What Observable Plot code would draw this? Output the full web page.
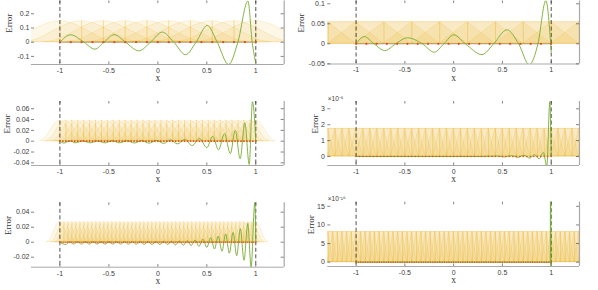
<!DOCTYPE html>
<html><head><meta charset="utf-8">
<script src="https://cdn.jsdelivr.net/npm/d3@7"></script>
<script src="https://cdn.jsdelivr.net/npm/@observablehq/plot@0.6"></script>
<style>
html,body{margin:0;padding:0;background:#fff;}
#fig{position:relative;width:598px;height:290px;overflow:hidden;background:#fff;}
#fig svg{position:absolute;}
</style></head><body><div id="fig"></div>
<script>
const green = "#77AC30", orange = "#EDB120", red = "#D95319";
const xTicks = [-1, -0.5, 0, 0.5, 1];
const xLim = [-1.29, 1.29];

// Panel 1 (top-left)
const err1X = [-1, -0.89, -0.755, -0.643, -0.551, -0.445, -0.33, -0.194, -0.075, 0.045, 0.163, 0.283, 0.39, 0.505, 0.606, 0.722, 0.817, 0.92, 0.963, 1.0];
const err1Y = [0, 0.052, 0, -0.049, 0, 0.053, 0, -0.061, 0, 0.071, 0, -0.088, 0, 0.118, 0, -0.157, 0, 0.29, 0, -0.15];
const yTicks1 = [-0.1, 0, 0.1, 0.2];

// Panel 2 (top-right)
const err2X = [-1, -0.918, -0.816, -0.706, -0.594, -0.474, -0.32, -0.2, -0.1, 0.0, 0.12, 0.29, 0.41, 0.546, 0.666, 0.775, 0.864, 0.945, 1.0];
const err2Y = [0, 0.018, 0, -0.017, 0, 0.015, 0, -0.021, 0, 0.0225, 0, -0.027, 0, 0.035, 0, -0.0525, 0, 0.108, -0.02];
const yTicks2 = [-0.05, 0, 0.05, 0.1];

// Panel 3 (middle-left)
const err3X = [-1, -0.96, -0.9, -0.84, -0.765, -0.69, -0.615, -0.54, -0.465, -0.39, -0.315, -0.24, -0.165, -0.09, -0.015, 0.06, 0.13, 0.2, 0.275, 0.35, 0.425, 0.5, 0.56, 0.62, 0.68, 0.74, 0.79, 0.84, 0.888, 0.933, 0.966, 1.0];
const err3Y = [0, -0.0035, 0.0005, -0.003, 0.0005, -0.003, 0.0005, -0.003, 0.0006, -0.003, 0.0008, -0.0033, 0.001, -0.0036, 0.0015, -0.004, 0.0025, -0.005, 0.0035, -0.008, 0.005, -0.012, 0.009, -0.016, 0.014, -0.023, 0.02, -0.0325, 0.034, -0.043, 0.073, 0];
const yTicks3 = [-0.04, -0.02, 0, 0.02, 0.04, 0.06];

// Panel 4 (middle-right), values in units of 1e-5
const err4X = [-1, 0.3, 0.45, 0.52, 0.59, 0.66, 0.72, 0.78, 0.83, 0.875, 0.92, 0.955, 0.986, 1.0];
const err4Y = [0, 0, 0.03, -0.03, 0.05, -0.05, 0.08, -0.1, 0.12, -0.15, 0.25, -0.6, 3.45, 0];
const yTicks4 = [0, 1, 2, 3];

// Panel 5 (bottom-left)
const err5X = [-1, -0.94, -0.9, -0.86, -0.82, -0.78, -0.74, -0.7, -0.66, -0.62, -0.58, -0.54, -0.5, -0.46, -0.42, -0.38, -0.34, -0.3, -0.26, -0.22, -0.18, -0.14, -0.1, -0.06, -0.02, 0.02, 0.06, 0.1, 0.14, 0.18, 0.22, 0.26, 0.3, 0.34, 0.38, 0.42, 0.46, 0.5, 0.54, 0.578, 0.616, 0.655, 0.692, 0.73, 0.768, 0.805, 0.842, 0.88, 0.918, 0.952, 0.99, 1.0];
const err5Y = [0, -0.003, 0.0005, -0.0025, 0.0005, -0.0025, 0.0005, -0.0025, 0.0005, -0.0025, 0.0005, -0.0025, 0.0005, -0.0025, 0.0006, -0.0025, 0.0006, -0.0025, 0.0007, -0.0027, 0.0007, -0.0028, 0.0008, -0.003, 0.0008, -0.003, 0.001, -0.003, 0.0012, -0.0035, 0.0015, -0.004, 0.002, -0.0045, 0.003, -0.0055, 0.004, -0.007, 0.006, -0.009, 0.008, -0.012, 0.011, -0.0147, 0.013, -0.018, 0.018, -0.024, 0.025, -0.033, 0.053, 0];
const yTicks5 = [-0.02, 0, 0.02, 0.04];

// Panel 6 (bottom-right), values in units of 1e-16
const err6X = [-1, 0.99, 0.994, 0.997, 1.0];
const err6Y = [0, 0, 40, -5, 0];
const yTicks6 = [0, 5, 10, 15];

// Bump shapes (offset in half-widths, relative height)
const bellU = [-1, -0.8, -0.6, -0.4, -0.2, 0, 0.2, 0.4, 0.6, 0.8, 1];
const bellR = [0, 0.1, 0.35, 0.65, 0.9, 1, 0.9, 0.65, 0.35, 0.1, 0];
const trapU = [-2, -1, 1, 2];
const trapR = [0, 1, 1, 0];

const grid = (a, step, n) => d3.range(n).map(k => a + k * step);

const panels = [
  {left: 0, top: 0, width: 298, height: 95, mt: 0.5, mb: 31, ml: 31, mr: 14.3,
   yDomain: [-0.157, 0.29], yTicks: yTicks1, ex: err1X, ey: err1Y,
   centers: grid(-1, 2/9, 10), profU: bellU, profR: bellR, bw: 0.6, bh: 0.148, curve: "catmull-rom", fo: 0.1,
   nodes: grid(-1, 1/9, 19), r: 1.1, ylabDx: -22, mult: null, base: true},
  {left: 298, top: 0, width: 300, height: 95, mt: 0.5, mb: 31.5, ml: 29.3, mr: 19,
   yDomain: [-0.0505, 0.107], yTicks: yTicks2, ex: err2X, ey: err2Y,
   centers: grid(-13/7, 2/7, 14), profU: trapU, profR: trapR, bw: 2/7, bh: 0.054, curve: "linear", fo: 0.14,
   nodes: grid(-1, 2/19, 20), r: 1.1, ylabDx: -26.5, mult: null, base: true},
  {left: 0, top: 95, width: 298, height: 95, mt: 6, mb: 25, ml: 31, mr: 14.3,
   yDomain: [-0.0449, 0.0733], yTicks: yTicks3, ex: err3X, ey: err3Y,
   centers: grid(-1, 2/33, 34), profU: bellU, profR: bellR, bw: 0.2, bh: 0.038, curve: "catmull-rom", fo: 0.09,
   nodes: grid(-1, 2/66, 67), r: 0.9, ylabDx: -24, mult: null, base: false},
  {left: 298, top: 95, width: 300, height: 95, mt: 6, mb: 25, ml: 29.3, mr: 19,
   yDomain: [-0.566, 3.46], yTicks: yTicks4, ex: err4X, ey: err4Y,
   centers: grid(-1 - 6 * 2/28, 2/28, 41), profU: trapU, profR: trapR, bw: 2/28, bh: 1.74, curve: "linear", fo: 0.14,
   nodes: grid(-1, 2/56, 57), r: 0.8, ylabDx: -13, mult: "×10⁻⁵", base: false},
  {left: 0, top: 190, width: 298, height: 100, mt: 12.3, mb: 23.3, ml: 31, mr: 14.3,
   yDomain: [-0.0333, 0.0525], yTicks: yTicks5, ex: err5X, ey: err5Y,
   centers: grid(-1, 2/49, 50), profU: bellU, profR: bellR, bw: 0.13, bh: 0.0267, curve: "catmull-rom", fo: 0.09,
   nodes: grid(-1, 2/98, 99), r: 0.8, ylabDx: -23, mult: null, base: false},
  {left: 298, top: 190, width: 300, height: 100, mt: 11.7, mb: 24, ml: 29.3, mr: 19,
   yDomain: [-1.16, 16.1], yTicks: yTicks6, ex: err6X, ey: err6Y,
   centers: grid(-1 - 8 * 2/42, 2/42, 59), profU: trapU, profR: trapR, bw: 2/42, bh: 8.1, curve: "linear", fo: 0.14,
   nodes: grid(-1, 2/84, 85), r: 0.8, ylabDx: -17, mult: "×10⁻¹⁶", base: false}
];

const fmt = d => `${d}`;
const fig = document.getElementById("fig");

for (const p of panels) {
  const [y0, y1] = p.yDomain;
  const [x0, x1] = xLim;
  const bumpData = [];
  p.centers.forEach((c, i) => p.profU.forEach((u, j) => bumpData.push({id: i, x: c + u * p.bw, y: p.profR[j] * p.bh})));
  const errData = p.ex.map((x, i) => ({x, y: p.ey[i]}));
  const tickLenY = 0.04 * (y1 - y0);
  const tickLenX = 0.012 * (x1 - x0);
  const marks = [
    Plot.areaY(bumpData, {x: "x", y1: () => 0, y2: "y", z: "id", fill: orange, fillOpacity: p.fo, stroke: orange, strokeOpacity: 0.35, strokeWidth: 0.5, curve: p.curve, clip: true}),
    Plot.ruleX(p.centers, {y1: 0, y2: p.bh, stroke: orange, strokeOpacity: 0.7, strokeWidth: 0.6, clip: true}),
    Plot.ruleX([x1], {stroke: "#a8a8a8", strokeWidth: 1.2}),
    Plot.ruleY([y0], {stroke: "#a8a8a8", strokeWidth: 1}),
    Plot.ruleX(xTicks, {y1: y1, y2: y1 - tickLenY, stroke: "#333", strokeWidth: 0.6}),
    Plot.ruleX(xTicks, {y1: y0, y2: y0 + tickLenY, stroke: "#333", strokeWidth: 0.6}),
    Plot.ruleY(p.yTicks, {x1: x0, x2: x0 + tickLenX, stroke: "#333", strokeWidth: 0.6}),
    Plot.ruleY(p.yTicks, {x1: x1, x2: x1 - tickLenX, stroke: "#333", strokeWidth: 0.6}),
    Plot.ruleX([-1, 1], {stroke: "#262626", strokeWidth: 0.8, strokeDasharray: "4,2.5"}),
  ];
  if (p.base) marks.push(Plot.ruleY([0], {x1: -1, x2: 1, stroke: "#7a5a30", strokeOpacity: 0.7, strokeWidth: 0.8}));
  marks.push(
    Plot.line(errData, {x: "x", y: "y", stroke: green, strokeWidth: 0.9, curve: "monotone-x", clip: true}),
    Plot.dot(p.nodes, {x: d => d, y: () => 0, r: p.r, fill: red}),
    Plot.text(["Error"], {text: d => d, frameAnchor: "left", dx: p.ylabDx, rotate: -90, fontFamily: "Liberation Serif", fontSize: 9, fill: "#333"}),
    Plot.text(["x"], {text: d => d, frameAnchor: "bottom", dy: 16.5, fontFamily: "Liberation Serif", fontSize: 9.5, fill: "#333"})
  );
  if (p.mult) marks.push(Plot.text([p.mult], {text: d => d, frameAnchor: "top-left", textAnchor: "start", dy: -5.5, fontSize: 6.5, fill: "#404040"}));
  const svg = Plot.plot({
    width: p.width, height: p.height,
    marginTop: p.mt, marginBottom: p.mb, marginLeft: p.ml, marginRight: p.mr,
    style: {overflow: "visible", background: "transparent", fontFamily: "Liberation Sans", fontSize: "7px", color: "#404040"},
    x: {domain: xLim, ticks: xTicks, tickSize: 0, tickPadding: 3.5, tickFormat: fmt, label: null},
    y: {domain: p.yDomain, ticks: p.yTicks, tickSize: 0, tickPadding: p.ml > 30 ? 2 : 3, tickFormat: fmt, label: null},
    marks
  });
  svg.style.left = p.left + "px";
  svg.style.top = p.top + "px";
  fig.appendChild(svg);
}
</script>
</body></html>
